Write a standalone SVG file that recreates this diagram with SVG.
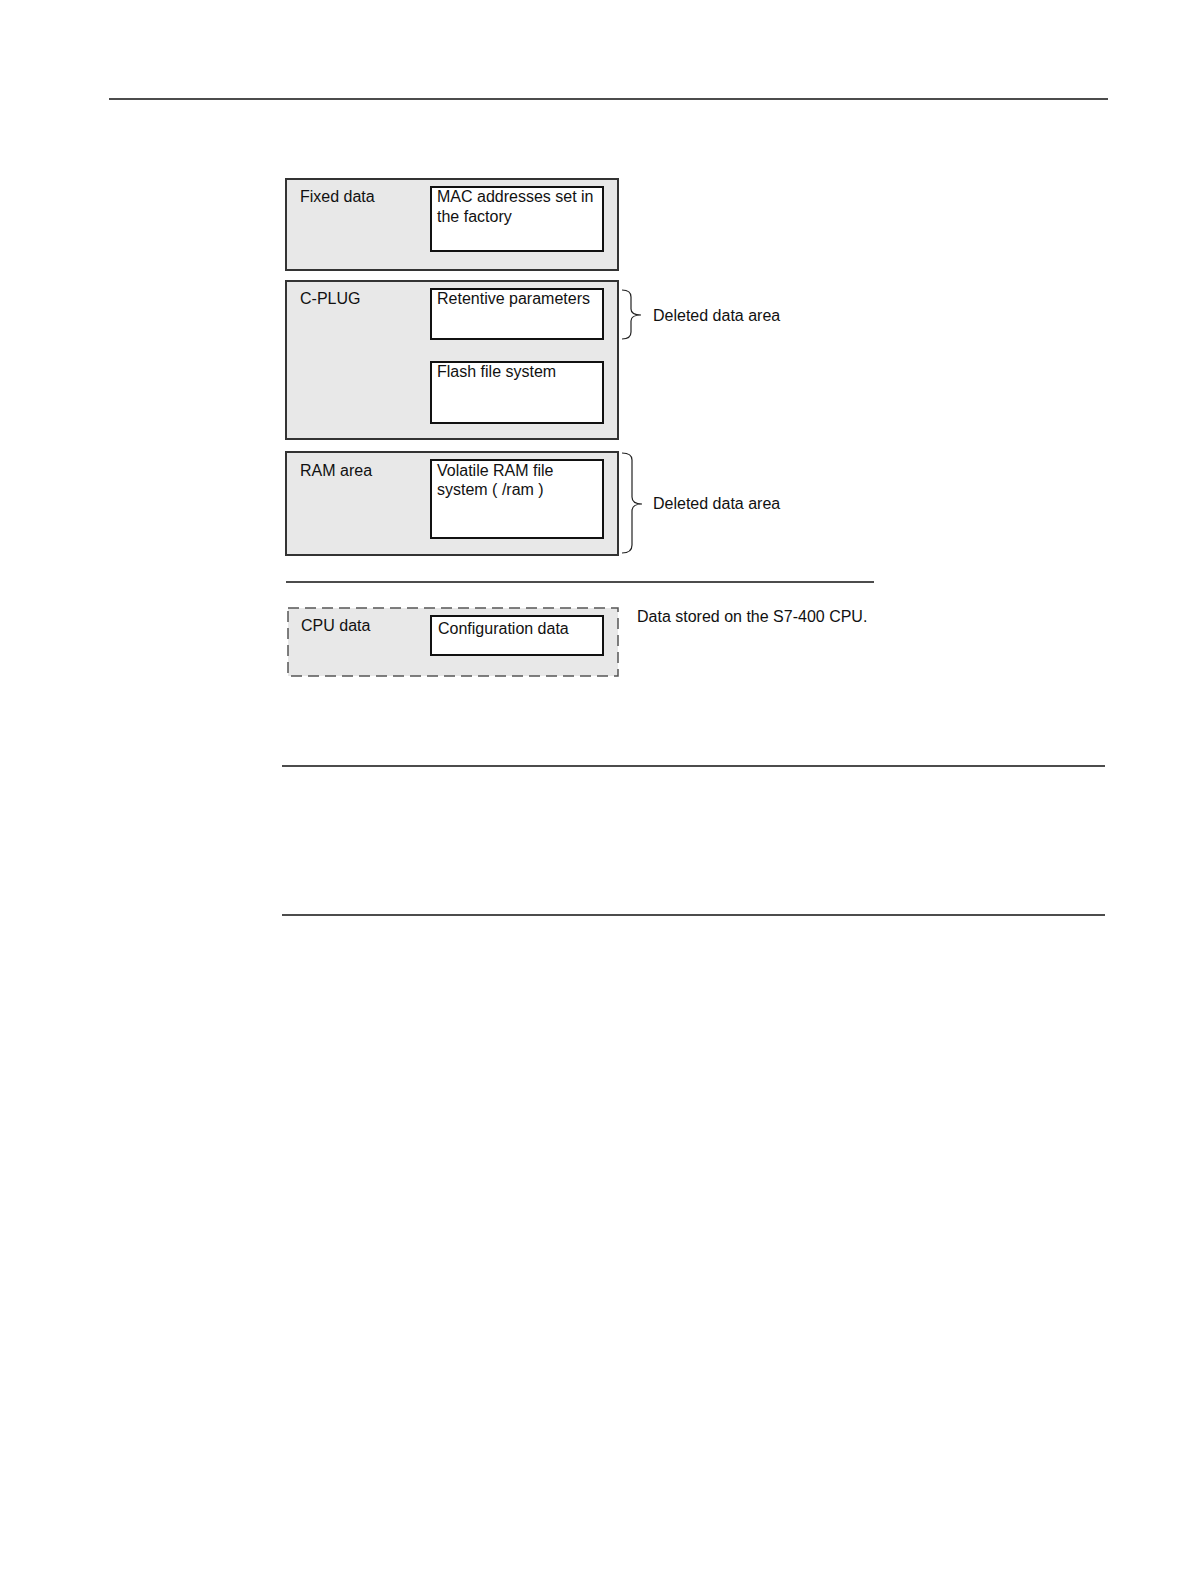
<svg xmlns="http://www.w3.org/2000/svg" width="1191" height="1587" viewBox="0 0 1191 1587">
<style>
text{font-family:"Liberation Sans",Arial,sans-serif;font-size:16px;fill:#111}
.outer{fill:#e8e8e8;stroke:#333;stroke-width:2}
.inner{fill:#fff;stroke:#111;stroke-width:2}
.dash{fill:#e8e8e8;stroke:#555;stroke-width:1.5;stroke-dasharray:11 6}
.rule{stroke:#111;stroke-width:1.3}
.brace{fill:none;stroke:#222;stroke-width:1.2}
</style>
<rect width="1191" height="1587" fill="#fff"/>
<line class="rule" x1="109" y1="99" x2="1108" y2="99"/>
<line class="rule" x1="282" y1="766" x2="1105" y2="766"/>
<line class="rule" x1="282" y1="915" x2="1105" y2="915"/>
<g id="fixed">
<rect class="outer" x="286" y="179" width="332" height="91"/>
<text x="300" y="202">Fixed data</text>
<rect class="inner" x="431" y="187" width="172" height="64"/>
<text x="437" y="202">MAC addresses set in</text>
<text x="437" y="222">the factory</text>
</g>
<g id="cplug">
<rect class="outer" x="286" y="281" width="332" height="158"/>
<text x="300" y="304">C-PLUG</text>
<rect class="inner" x="431" y="289" width="172" height="50"/>
<text x="437" y="304">Retentive parameters</text>
<rect class="inner" x="431" y="362" width="172" height="61"/>
<text x="437" y="377">Flash file system</text>
</g>
<g id="ram">
<rect class="outer" x="286" y="452" width="332" height="103"/>
<text x="300" y="476">RAM area</text>
<rect class="inner" x="431" y="460" width="172" height="78"/>
<text x="437" y="476">Volatile RAM file</text>
<text x="437" y="495">system ( /ram )</text>
</g>
<line class="rule" x1="286" y1="582" x2="874" y2="582"/>
<g id="cpu">
<rect class="dash" x="288" y="608" width="330" height="68"/>
<text x="301" y="631">CPU data</text>
<rect class="inner" x="431" y="616" width="172" height="39"/>
<text x="438" y="634">Configuration data</text>
<text x="637" y="622">Data stored on the S7-400 CPU.</text>
</g>
<g id="connectors">
<path class="brace" d="M622 290 Q631 290 631 297 L631 309 Q631 315 641 315 Q631 315 631 321 L631 332 Q631 339 622 339"/>
<path class="brace" d="M622 453 Q632 453 632 460 L632 497 Q632 504 642 504 Q632 504 632 511 L632 545 Q632 553 622 553"/>
</g>
<g id="labels">
<text x="653" y="321">Deleted data area</text>
<text x="653" y="509">Deleted data area</text>
</g>
</svg>
